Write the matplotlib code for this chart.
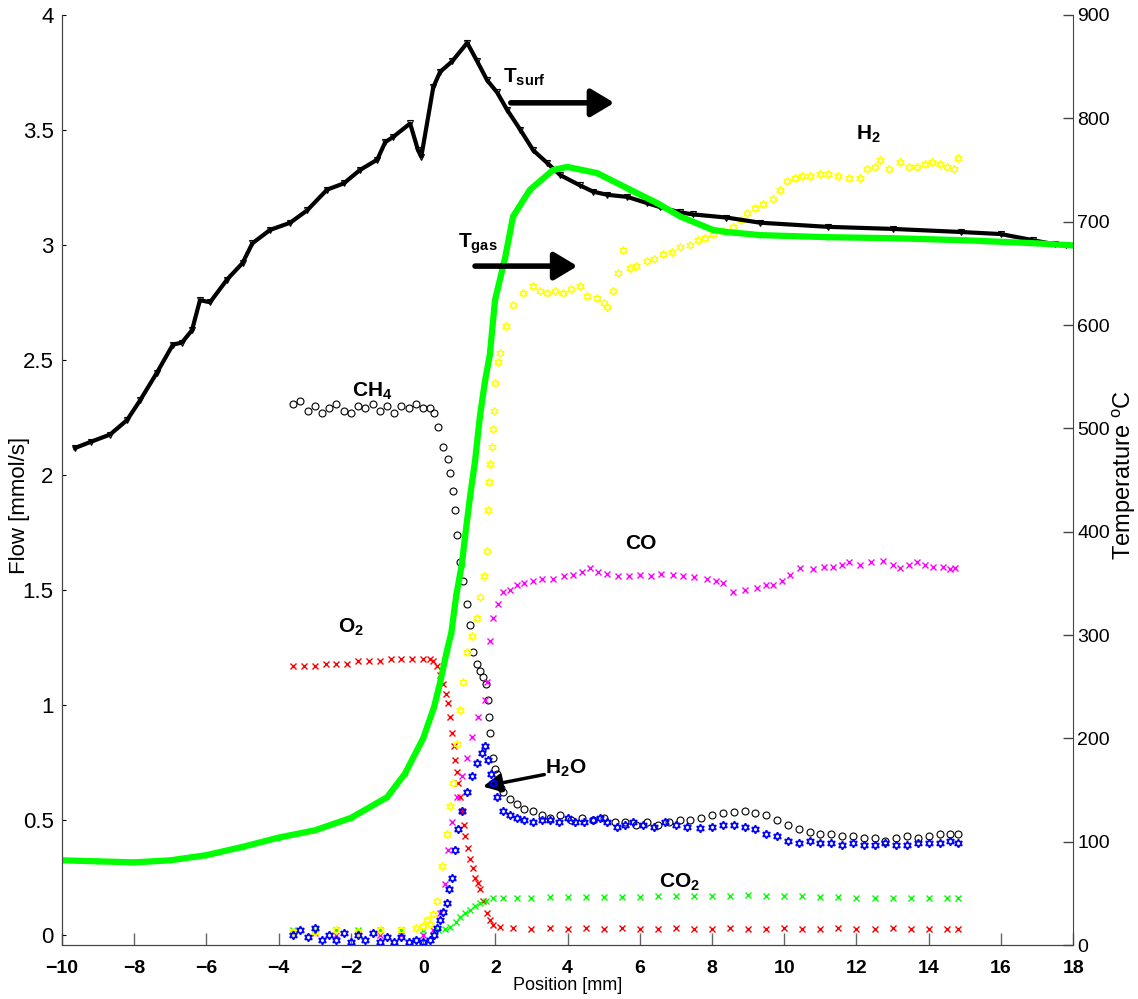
import matplotlib
matplotlib.use("Agg")
import matplotlib.pyplot as plt
from matplotlib import font_manager as fm
from matplotlib.ticker import FuncFormatter, MultipleLocator

names = {f.name for f in fm.fontManager.ttflist}
narrow = 'Liberation Sans Narrow' if 'Liberation Sans Narrow' in names else 'Liberation Sans'
plt.rcParams['font.family'] = [narrow, 'DejaVu Sans']
plt.rcParams['mathtext.fontset'] = 'custom'
plt.rcParams['mathtext.rm'] = narrow
plt.rcParams['mathtext.bf'] = narrow + ':bold'

# ---- flows [mmol/s] (left axis) ----
ch4_x = [-3.6, -3.4, -3.2, -3.0, -2.8, -2.6, -2.4, -2.2, -2.0, -1.8, -1.6, -1.4, -1.2, -1.0, -0.8, -0.6, -0.4, -0.2, 0.0, 0.2, 0.3,
         0.42, 0.55, 0.69, 0.75, 0.83, 0.89, 0.95, 1.03, 1.11, 1.22, 1.3, 1.39, 1.5, 1.58, 1.66, 1.75, 1.8, 1.83, 1.86, 1.94, 2.0, 2.05,
         2.15, 2.22, 2.4, 2.6, 2.8, 3.05, 3.3, 3.5, 3.8, 4.1, 4.4, 4.7, 5.0, 5.3, 5.6, 5.9, 6.2, 6.5, 6.8, 7.1, 7.4, 7.7, 8.0, 8.3,
         8.6, 8.9, 9.2, 9.5, 9.8, 10.1, 10.4, 10.7, 11.0, 11.3, 11.6, 11.9, 12.2, 12.5, 12.8, 13.1, 13.4, 13.7, 14.0, 14.3, 14.6, 14.8]
ch4_y = [2.31, 2.32, 2.28, 2.30, 2.27, 2.29, 2.31, 2.28, 2.27, 2.30, 2.29, 2.31, 2.28, 2.30, 2.27, 2.30, 2.29, 2.31, 2.29, 2.29, 2.27,
         2.21, 2.12, 2.07, 2.01, 1.93, 1.85, 1.74, 1.62, 1.54, 1.44, 1.35, 1.23, 1.18, 1.15, 1.12, 1.09, 1.02, 0.95, 0.88, 0.77, 0.72, 0.70,
         0.64, 0.62, 0.59, 0.57, 0.55, 0.54, 0.52, 0.51, 0.52, 0.50, 0.51, 0.50, 0.51, 0.49, 0.49, 0.48, 0.49, 0.48, 0.49, 0.50, 0.50, 0.51, 0.52, 0.53,
         0.535, 0.54, 0.53, 0.52, 0.50, 0.48, 0.46, 0.45, 0.44, 0.44, 0.43, 0.43, 0.42, 0.42, 0.41, 0.42, 0.43, 0.42, 0.43, 0.44, 0.44, 0.44]

h2o_x = [-3.6, -3.4, -3.2, -3.0, -2.8, -2.6, -2.4, -2.2, -2.0, -1.8, -1.6, -1.4, -1.2, -1.0, -0.8, -0.6, -0.4, -0.2, 0.0, 0.2, 0.3,
         0.39, 0.47, 0.56, 0.66, 0.73, 0.8, 0.89, 0.97, 1.08, 1.22, 1.36, 1.5, 1.63, 1.72, 1.8, 1.87, 1.94, 2.05, 2.22, 2.4, 2.6, 2.8,
         3.05, 3.3, 3.5, 3.75, 4.0, 4.2, 4.45, 4.7, 4.9, 5.1, 5.37, 5.6, 5.82, 6.1, 6.4, 6.7, 7.0, 7.3, 7.67, 8.0, 8.3, 8.6, 8.9, 9.2,
         9.5, 9.8, 10.1, 10.4, 10.7, 11.0, 11.3, 11.6, 11.9, 12.2, 12.5, 12.8, 13.1, 13.4, 13.7, 14.0, 14.3, 14.6, 14.8]
h2o_y = [0.0, 0.02, -0.01, 0.03, -0.02, 0.0, -0.02, 0.01, -0.03, 0.0, -0.02, 0.01, -0.03, -0.01, -0.03, -0.01, -0.03, -0.02, -0.03, -0.02, 0.0,
         0.03, 0.065, 0.10, 0.14, 0.20, 0.25, 0.37, 0.46, 0.54, 0.62, 0.69, 0.75, 0.79, 0.82, 0.76, 0.70, 0.66, 0.60, 0.54, 0.52, 0.51, 0.50,
         0.49, 0.50, 0.50, 0.49, 0.51, 0.49, 0.49, 0.50, 0.51, 0.49, 0.47, 0.48, 0.49, 0.48, 0.47, 0.49, 0.48, 0.47, 0.465, 0.47, 0.48, 0.48, 0.47, 0.46,
         0.44, 0.43, 0.41, 0.40, 0.41, 0.40, 0.40, 0.39, 0.40, 0.39, 0.39, 0.40, 0.39, 0.39, 0.40, 0.40, 0.40, 0.41, 0.40]

o2_x = [-3.6, -3.3, -3.0, -2.7, -2.4, -2.1, -1.8, -1.5, -1.2, -0.9, -0.6, -0.3, 0.0, 0.19, 0.28, 0.39, 0.47, 0.55, 0.62, 0.69, 0.75,
        0.8, 0.85, 0.89, 0.93, 0.97, 1.03, 1.08, 1.12, 1.16, 1.23, 1.3, 1.37, 1.44, 1.51, 1.58, 1.67, 1.77, 1.85, 1.94, 2.13, 2.5,
        3.0, 3.5, 4.0, 4.5, 5.0, 5.5, 6.0, 6.5, 7.0, 7.5, 8.0, 8.5, 9.0, 9.5, 10.0, 10.5, 11.0, 11.5, 12.0, 12.5, 13.0, 13.5, 14.0, 14.5, 14.8]
o2_y = [1.17, 1.17, 1.17, 1.18, 1.18, 1.18, 1.19, 1.19, 1.19, 1.20, 1.20, 1.20, 1.20, 1.20, 1.19, 1.17, 1.13, 1.09, 1.05, 1.01, 0.95,
        0.88, 0.82, 0.76, 0.71, 0.66, 0.60, 0.54, 0.48, 0.43, 0.38, 0.33, 0.29, 0.25, 0.225, 0.20, 0.15, 0.095, 0.065, 0.043, 0.035, 0.03,
        0.028, 0.03, 0.027, 0.029, 0.028, 0.03, 0.027, 0.028, 0.03, 0.027, 0.028, 0.029, 0.027, 0.028, 0.03, 0.027, 0.028, 0.029, 0.027, 0.028, 0.03, 0.027, 0.028, 0.028, 0.027]

co2_x = [-3.6, -3.0, -2.4, -1.8, -1.2, -0.6, 0.0, 0.4, 0.6, 0.75, 0.9, 1.03, 1.17, 1.3, 1.44, 1.58, 1.75, 1.94, 2.2, 2.6,
         3.0, 3.5, 4.0, 4.5, 5.0, 5.5, 6.0, 6.5, 7.0, 7.5, 8.0, 8.5, 9.0, 9.5, 10.0, 10.5, 11.0, 11.5, 12.0, 12.5, 13.0, 13.5, 14.0, 14.5, 14.8]
co2_y = [0.02, 0.02, 0.02, 0.02, 0.02, 0.02, 0.02, 0.02, 0.025, 0.035, 0.055, 0.08, 0.095, 0.11, 0.125, 0.14, 0.15, 0.16, 0.163, 0.163,
         0.163, 0.164, 0.165, 0.165, 0.166, 0.167, 0.167, 0.168, 0.168, 0.169, 0.17, 0.171, 0.172, 0.171, 0.17, 0.168, 0.166, 0.164, 0.162, 0.162, 0.161, 0.162, 0.162, 0.163, 0.163]

co_x = [-3.6, -3.0, -2.4, -1.8, -1.2, -0.6, 0.0, 0.28, 0.47, 0.61, 0.69, 0.8, 0.94, 1.08, 1.22, 1.36, 1.52, 1.72, 1.77, 1.86, 1.94, 2.08,
        2.22, 2.4, 2.6, 2.8, 3.05, 3.3, 3.6, 3.9, 4.15, 4.4, 4.63, 4.85, 5.1, 5.4, 5.7, 6.0, 6.3, 6.6, 6.93, 7.2, 7.5, 7.87, 8.1, 8.31,
        8.59, 8.9, 9.25, 9.5, 9.7, 9.95, 10.17, 10.44, 10.8, 11.1, 11.36, 11.6, 11.8, 12.1, 12.4, 12.74, 13.0, 13.2, 13.45, 13.68, 13.9,
        14.13, 14.4, 14.6, 14.74]
co_y = [0.01, 0.01, 0.0, 0.01, 0.0, 0.0, 0.0, 0.02, 0.095, 0.22, 0.37, 0.49, 0.60, 0.69, 0.77, 0.86, 0.95, 1.02, 1.10, 1.28, 1.38, 1.44,
        1.49, 1.50, 1.52, 1.53, 1.54, 1.55, 1.55, 1.56, 1.565, 1.58, 1.595, 1.58, 1.57, 1.56, 1.56, 1.565, 1.56, 1.57, 1.565, 1.56, 1.555, 1.55, 1.54, 1.53,
        1.49, 1.50, 1.51, 1.52, 1.52, 1.54, 1.565, 1.595, 1.59, 1.60, 1.60, 1.61, 1.62, 1.61, 1.62, 1.625, 1.61, 1.595, 1.61, 1.62, 1.61,
        1.60, 1.60, 1.59, 1.595]

h2_x = [-3.6, -3.0, -2.4, -1.8, -1.2, -0.6, -0.2, 0.0, 0.1, 0.19, 0.28, 0.39, 0.53, 0.66, 0.75, 0.83, 0.94, 1.03, 1.11, 1.22, 1.36, 1.5,
        1.58, 1.69, 1.77, 1.8, 1.83, 1.86, 1.91, 1.94, 1.97, 2.0, 2.08, 2.13, 2.3, 2.5, 2.77, 3.05, 3.25, 3.43, 3.65, 3.88, 4.1, 4.35,
        4.55, 4.82, 5.0, 5.1, 5.27, 5.4, 5.54, 5.73, 5.9, 6.2, 6.4, 6.65, 6.9, 7.12, 7.4, 7.6, 7.8, 8.03, 8.3, 8.59, 8.8, 8.98, 9.2,
        9.4, 9.7, 9.89, 10.08, 10.3, 10.5, 10.7, 11.0, 11.2, 11.5, 11.8, 12.1, 12.3, 12.5, 12.66, 12.9, 13.2, 13.45, 13.68, 13.9, 14.1,
        14.3, 14.5, 14.7, 14.8]
h2_y = [0.015, 0.015, 0.02, 0.015, 0.02, 0.02, 0.03, 0.04, 0.065, 0.05, 0.09, 0.15, 0.30, 0.44, 0.56, 0.66, 0.83, 0.98, 1.10, 1.23, 1.30, 1.38,
        1.47, 1.56, 1.67, 1.85, 1.97, 2.05, 2.12, 2.20, 2.28, 2.40, 2.49, 2.53, 2.65, 2.74, 2.79, 2.82, 2.80, 2.79, 2.80, 2.79, 2.81, 2.82,
        2.78, 2.77, 2.75, 2.73, 2.80, 2.88, 2.98, 2.90, 2.91, 2.93, 2.94, 2.96, 2.97, 2.99, 3.00, 3.02, 3.03, 3.05, 3.06, 3.08, 3.11, 3.14, 3.16,
        3.18, 3.20, 3.24, 3.28, 3.29, 3.30, 3.30, 3.31, 3.31, 3.30, 3.29, 3.29, 3.33, 3.34, 3.37, 3.33, 3.36, 3.34, 3.34, 3.35, 3.36,
        3.35, 3.34, 3.33, 3.38]

# ---- temperatures [degC] (right axis) ----
tsurf_x = [-9.64, -9.2, -8.67, -8.2, -7.84, -7.37, -6.93, -6.68, -6.4, -6.18, -5.9, -5.43, -5.0, -4.73, -4.24, -3.68, -3.21, -2.66,
           -2.2, -1.75, -1.27, -1.05, -0.83, -0.36, -0.14, -0.05, 0.28, 0.47, 0.80, 1.22, 1.50, 1.77, 2.05, 2.33, 2.69, 3.05, 3.43,
           3.8, 4.35, 4.71, 5.10, 5.65, 6.2, 6.57, 7.12, 7.48, 8.4, 9.33, 11.2, 13.0, 14.9, 16.0, 16.9, 17.5, 17.8]
tsurf_y = [481, 487, 494, 508, 527, 554, 581, 583, 595, 624, 622, 644, 660, 679, 692, 699, 711, 731,
           737, 750, 760, 777, 782, 795, 769, 763, 830, 845, 855, 873, 855, 837, 825, 808, 789, 769, 757,
           745, 735, 729, 726, 724, 718, 714, 709, 707, 704, 699, 695, 693, 690, 688, 682, 678, 677]

tgas_x = [-10, -9, -8, -7, -6, -5, -4, -3, -2, -1, -0.5, 0.0, 0.3, 0.47, 0.66, 0.78, 0.92, 1.07, 1.16, 1.30, 1.44, 1.57, 1.71,
          1.85, 1.99, 2.27, 2.49, 2.96, 3.6, 3.99, 4.82, 5.73, 6.48, 7.12, 8.03, 8.4, 9.33, 11.2, 13.0, 15, 17, 18]
tgas_y = [82, 81, 80, 82, 87, 95, 104, 111, 123, 143, 166, 200, 230, 254, 285, 302, 339, 368, 395, 434, 469, 511, 545,
          572, 624, 665, 705, 731, 750, 753, 747, 731, 718, 705, 692, 690, 687, 685, 684, 682, 679, 677]

hexagram = (6, 1, 0)


def fmt(v, p):
    return ('%g' % v).replace('-', '\u2212')


fig = plt.figure(figsize=(11.38, 9.99), dpi=100)
ax1 = fig.add_axes([0.0545, 0.054, 0.8885, 0.931])
ax2 = ax1.twinx()

ax1.plot(ch4_x, ch4_y, 'o', mfc='none', mec='black', ms=5, mew=0.8, zorder=3)
ax1.plot(o2_x, o2_y, 'x', color='red', ms=4, mew=1, zorder=3)
ax1.plot(co_x, co_y, 'x', color='magenta', ms=4, mew=1, zorder=3)
ax1.plot(co2_x, co2_y, 'x', color='lime', ms=4, mew=1, zorder=3)
ax1.plot(h2_x, h2_y, marker=hexagram, ls='none', mfc='none', mec='yellow', ms=6, mew=1, zorder=3)
ax1.plot(h2o_x, h2o_y, marker=hexagram, ls='none', mfc='none', mec='blue', ms=6, mew=1.2, zorder=4)

ax2.plot(tsurf_x, tsurf_y, '-v', color='black', lw=3, ms=4, mfc='none', mew=0.8)
ax2.plot(tgas_x, tgas_y, '-', color='lime', lw=4.5, marker=hexagram, ms=4, mfc='none', mew=1)

ax1.set_xlim(-10, 18)
ax1.set_ylim(-0.0435, 4)
ax2.set_ylim(0, 900)

ax1.xaxis.set_major_locator(MultipleLocator(2))
ax1.yaxis.set_major_locator(MultipleLocator(0.5))
ax1.yaxis.set_major_formatter(FuncFormatter(fmt))
ax1.xaxis.set_major_formatter(FuncFormatter(fmt))
ax2.yaxis.set_major_locator(MultipleLocator(100))

for ax in (ax1, ax2):
    ax.spines['top'].set_visible(False)
    for s in ax.spines.values():
        s.set_color('#444444')
ax1.spines['right'].set_visible(False)

ax1.tick_params(axis='x', direction='in', length=9, width=1, color='#666666', labelsize=14, pad=11, top=False)
for lab in ax1.get_xticklabels():
    lab.set_fontweight('bold')
ax1.tick_params(axis='y', direction='in', length=3, width=0.8, labelsize=16, pad=6)
ax2.tick_params(axis='y', direction='in', length=7, width=1, color='#444444', labelsize=14, pad=3)

ax1.set_xlabel('Position [mm]', fontsize=13, labelpad=0)
ax1.set_ylabel('Flow [mmol/s]', fontsize=16)
ax1.yaxis.set_label_coords(-0.032, 0.473)
ax2.set_ylabel('Temperature $^{\\rm o}$C', fontsize=17)
ax2.yaxis.set_label_coords(1.037, 0.505)

# species labels
bold = dict(fontweight='bold', fontsize=15)
ax1.text(-1.97, 2.34, 'CH$_\\mathbf{4}$', zorder=1, **bold)
ax1.text(-2.35, 1.317, 'O$_\\mathbf{2}$', **bold)
ax1.text(5.6, 1.678, 'CO', **bold)
ax1.text(12.0, 3.457, 'H$_\\mathbf{2}$', **bold)
ax1.text(6.54, 0.209, 'CO$_\\mathbf{2}$', **bold)
ax1.text(3.38, 0.704, 'H$_\\mathbf{2}$O', **bold)
ax1.annotate('', xy=(1.58, 0.643), xytext=(3.43, 0.70),
             arrowprops=dict(arrowstyle='-|>,head_length=0.5,head_width=0.25', color='black', lw=2.5, mutation_scale=22))

ax2.text(2.22, 835, 'T$_\\mathbf{surf}$', **bold)
ax2.text(0.97, 675, 'T$_\\mathbf{gas}$', **bold)
ax2.annotate('', xy=(5.37, 815), xytext=(2.35, 815),
             arrowprops=dict(arrowstyle='-|>,head_length=0.5,head_width=0.3', color='black', lw=4, mutation_scale=28))
ax2.annotate('', xy=(4.35, 657), xytext=(1.36, 657),
             arrowprops=dict(arrowstyle='-|>,head_length=0.5,head_width=0.3', color='black', lw=4, mutation_scale=28))

fig.savefig('out.png', dpi=100)
